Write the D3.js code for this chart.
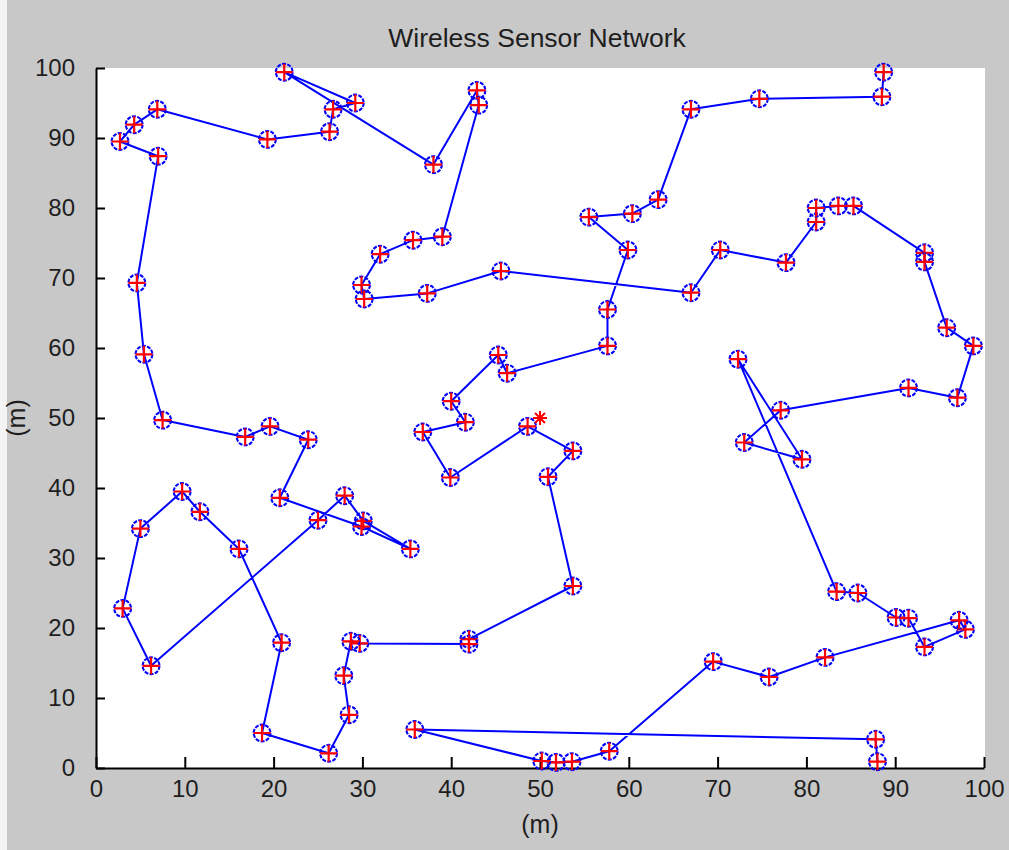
<!DOCTYPE html>
<html>
<head>
<meta charset="utf-8">
<script src="https://cdn.jsdelivr.net/npm/d3@7"></script>
<style>
  html, body { margin: 0; padding: 0; background: #c8c8c8; }
  svg { display: block; }
  text { font-family: "Liberation Sans", Arial, sans-serif; fill: #1e1e1e; }
</style>
</head>
<body>
<script>
// Route through the sensor nodes, in visiting order (metres)
const nodeX = [88.7, 88.5, 74.7, 67.0, 63.3, 60.4, 55.5, 59.9, 57.6, 57.6,
  46.3, 45.3, 40.0, 41.6, 36.8, 39.9, 48.6, 53.7, 50.9, 53.7,
  42.0, 42.0, 29.7, 28.7, 27.9, 28.5, 26.2, 18.7, 20.9, 16.1,
  11.7, 9.7, 5.0, 3.0, 6.2, 25.0, 28.0, 30.1, 35.4, 29.9,
  20.7, 23.9, 19.6, 16.8, 7.5, 5.4, 4.6, 7.0, 2.7, 4.3,
  6.9, 19.3, 26.3, 26.7, 29.2, 21.2, 38.0, 42.9, 43.1, 39.0,
  35.7, 32.0, 29.9, 30.2, 37.3, 45.6, 67.0, 70.3, 77.7, 81.1,
  81.1, 83.6, 85.3, 93.3, 93.3, 95.8, 98.8, 97.0, 91.5, 77.1,
  73.0, 79.5, 72.3, 83.4, 85.8, 90.1, 91.5, 93.3, 97.9, 97.2,
  82.1, 75.8, 69.5, 57.8, 53.6, 51.8, 50.2, 35.9, 87.8, 88.0];
const nodeY = [99.4, 95.9, 95.6, 94.1, 81.2, 79.2, 78.7, 74.0, 65.5, 60.3,
  56.4, 59.0, 52.4, 49.4, 48.0, 41.5, 48.8, 45.3, 41.6, 26.0,
  18.4, 17.7, 17.8, 18.1, 13.2, 7.6, 2.1, 5.0, 17.9, 31.3,
  36.6, 39.5, 34.2, 22.8, 14.6, 35.4, 38.9, 35.3, 31.3, 34.5,
  38.6, 46.9, 48.8, 47.3, 49.7, 59.1, 69.3, 87.4, 89.5, 91.9,
  94.1, 89.8, 90.9, 94.1, 95.0, 99.4, 86.2, 96.8, 94.7, 75.9,
  75.4, 73.4, 69.0, 67.0, 67.8, 71.0, 67.9, 74.0, 72.2, 78.0,
  80.0, 80.3, 80.3, 73.6, 72.3, 62.9, 60.3, 52.9, 54.3, 51.1,
  46.5, 44.1, 58.4, 25.2, 25.0, 21.5, 21.4, 17.3, 19.8, 21.1,
  15.8, 13.0, 15.2, 2.4, 0.9, 0.8, 1.0, 5.5, 4.1, 0.9];

// Base station (sink)
const sinkX = [50];
const sinkY = [50];

const xTicks = [0, 10, 20, 30, 40, 50, 60, 70, 80, 90, 100];
const yTicks = [0, 10, 20, 30, 40, 50, 60, 70, 80, 90, 100];
const titleText = "Wireless Sensor Network";
const xLabel = "(m)";
const yLabel = "(m)";

const W = 1009, H = 850;
const plot = { left: 96, right: 984, top: 68, bottom: 768 };

const svg = d3.select("body").append("svg")
  .attr("width", W).attr("height", H);

// figure background
svg.append("rect").attr("width", W).attr("height", H).attr("fill", "#c8c8c8");
svg.append("rect").attr("width", 7).attr("height", H).attr("fill", "#f4f4f4");

// axes area
svg.append("rect")
  .attr("x", plot.left).attr("y", plot.top)
  .attr("width", plot.right - plot.left + 1).attr("height", plot.bottom - plot.top)
  .attr("fill", "#ffffff");

const x = d3.scaleLinear().domain([0, 100]).range([plot.left, plot.right]);
const y = d3.scaleLinear().domain([0, 100]).range([plot.bottom, plot.top]);

// x axis: ticks pointing inward
const xAxis = d3.axisBottom(x).tickValues(xTicks).tickSizeInner(-11).tickSizeOuter(0).tickPadding(22);
const gx = svg.append("g").attr("transform", `translate(0,${plot.bottom})`).call(xAxis);
const yAxis = d3.axisLeft(y).tickValues(yTicks).tickSizeInner(-9).tickSizeOuter(0).tickPadding(21);
const gy = svg.append("g").attr("transform", `translate(${plot.left},0)`).call(yAxis);

[gx, gy].forEach(g => {
  g.select(".domain").attr("stroke", "#000").attr("stroke-width", 2);
  g.selectAll(".tick line").attr("stroke", "#000").attr("stroke-width", 2);
  g.selectAll(".tick text")
    .attr("fill", "#1e1e1e")
    .style("font-size", "24px")
    .style("font-family", "'Liberation Sans', Arial, sans-serif");
});
gx.selectAll(".tick text").attr("dy", "0.35em").attr("y", 21);

// route
const pts = nodeX.map((v, i) => [v, nodeY[i]]);
const line = d3.line().x(d => x(d[0])).y(d => y(d[1]));
svg.append("path")
  .datum(pts)
  .attr("d", line)
  .attr("fill", "none")
  .attr("stroke", "#0000ff")
  .attr("stroke-width", 2)
  .attr("stroke-linejoin", "round");

// node markers: blue circle with red plus
const nodes = svg.append("g").selectAll("g").data(pts).join("g")
  .attr("transform", d => `translate(${x(d[0])},${y(d[1])})`);
nodes.append("circle")
  .attr("r", 8.4)
  .attr("fill", "none")
  .attr("stroke", "#0000ff")
  .attr("stroke-width", 2.1)
  .attr("stroke-dasharray", "4 1.3");
nodes.append("path")
  .attr("d", "M-8.5,0H8.5M0,-8.5V8.5")
  .attr("stroke", "#ff0000")
  .attr("stroke-width", 2.2)
  .attr("fill", "none");

// sink marker: red asterisk
const sinkPts = sinkX.map((v, i) => [v, sinkY[i]]);
const star = svg.append("g").selectAll("g").data(sinkPts).join("g")
  .attr("transform", d => `translate(${x(d[0])},${y(d[1])})`);
star.append("path")
  .attr("d", () => {
    const r = 7, s = r * Math.SQRT1_2;
    return `M${-r},0H${r}M0,${-r}V${r}M${-s},${-s}L${s},${s}M${-s},${s}L${s},${-s}`;
  })
  .attr("stroke", "#ff0000")
  .attr("stroke-width", 2)
  .attr("fill", "none");

// title and axis labels
svg.append("text")
  .attr("x", (plot.left + plot.right) / 2 - 3).attr("y", 47)
  .attr("text-anchor", "middle")
  .style("font-size", "26.5px")
  .text(titleText);

svg.append("text")
  .attr("x", (plot.left + plot.right) / 2).attr("y", 833)
  .attr("text-anchor", "middle")
  .style("font-size", "25px")
  .text(xLabel);

svg.append("text")
  .attr("transform", `translate(25,${(plot.top + plot.bottom) / 2}) rotate(-90)`)
  .attr("text-anchor", "middle")
  .style("font-size", "25px")
  .text(yLabel);
</script>
</body>
</html>
